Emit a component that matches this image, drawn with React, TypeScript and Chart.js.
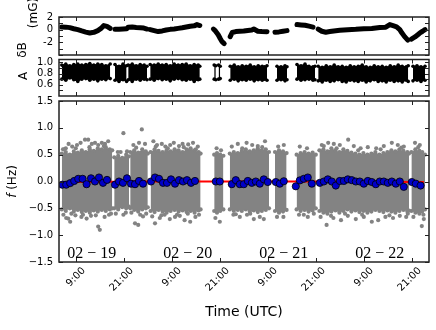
import React, { useEffect, useRef } from 'react';
import { Chart, registerables } from 'chart.js';

Chart.register(...registerables);

// ---- time axis (hours since 02-19 00:00 UTC) ----
const X_MIN = 4.8;
const X_MAX = 97.3;
const xTickHours = [9, 21, 33, 45, 57, 69, 81, 93];
const xTickLabels = ['9:00', '21:00', '9:00', '21:00', '9:00', '21:00', '9:00', '21:00'];
const dayLabelHours = [13, 37, 61, 85];
const dayLabels = ['02 \u2212 19', '02 \u2212 20', '02 \u2212 21', '02 \u2212 22'];

// ---- top panel: dB (mG) ----
const dbTicks = [-4, -3, -2, -1, 0, 1, 2];
const dbLabelled = [2, 0, -2];
const dbT: number[][] = [
  [5.5, 6.5, 7.5, 8.5, 9.5, 10.5, 11.5, 12.5, 13.5, 14.5, 15.3, 16.0, 16.8, 17.6],
  [18.8, 19.8, 20.8, 21.7],
  [22.1, 23.1, 24.1, 25.1, 26.0, 26.8],
  [27.6, 28.6, 29.6, 30.6, 31.6, 32.6, 33.6, 34.6, 35.6, 36.6, 37.6, 38.6, 39.3, 40.0],
  [43.4, 43.9, 44.6, 45.1, 45.5, 46.1],
  [47.6, 48.1, 49.0, 50.0, 51.0, 52.0, 53.0, 53.5, 54.5, 55.5, 56.8],
  [58.8, 59.8, 60.8, 61.8],
  [64.3, 65.3, 66.3, 67.3, 68.3],
  [69.6, 70.5, 71.5, 72.5, 73.5, 75, 77, 79, 81, 83, 85, 86.5, 87.5, 88.5, 89.2, 90.0, 90.5, 91.2, 92.0],
  [92.9, 93.8, 94.5, 95.05, 95.7, 96.3],
];
const dbV: number[][] = [
  [0.42, 0.4, 0.32, 0.15, 0.0, -0.2, -0.38, -0.52, -0.42, -0.15, 0.2, 0.65, 0.52, 0.2],
  [0.05, 0.05, 0.1, 0.15],
  [0.4, 0.43, 0.35, 0.3, 0.25, 0.1],
  [0.0, -0.15, -0.3, -0.2, -0.05, 0.05, 0.1, 0.2, 0.3, 0.42, 0.55, 0.6, 0.8, 0.65],
  [0.1, -0.2, -0.8, -1.4, -1.85, -2.2],
  [-1.1, -0.45, -0.3, -0.25, -0.22, -0.12, -0.05, 0.1, -0.25, -0.3, -0.32],
  [-0.4, -0.35, -0.25, -0.15],
  [0.8, 0.75, 0.7, 0.55, 0.4],
  [0.1, -0.25, -0.4, -0.3, -0.2, -0.1, 0.0, 0.05, 0.15, 0.2, 0.35, 0.4, 0.8, 0.6, 0.45, 0.0, -0.5, -1.1, -1.65],
  [-1.5, -1.15, -0.8, -0.5, -0.25, 0.0],
];

// ---- middle panel: A ----
const aTicks = [0.5, 0.6, 0.7, 0.8, 0.9, 1.0];
const aLabelled = [0.6, 0.8, 1.0];
const aT: number[][] = [
  [5.5, 6.5, 7.5, 8.5, 9.5, 10.5, 11.5, 12.5, 13.5, 14.5, 15.5, 16.5, 17.6],
  [18.8, 19.8, 20.8, 21.7],
  [22.1, 23.1, 24.1, 25.1, 26.1, 26.8],
  [27.6, 28.6, 29.6, 30.6, 31.6, 32.6, 33.6, 34.6, 35.6, 36.6, 37.6, 38.6, 39.6, 40.0],
  [43.6, 44.0],
  [44.7, 45.1],
  [47.6, 48.6, 49.6, 50.6, 51.6, 52.6, 53.6, 54.6, 55.6, 56.2, 56.8],
  [59.3, 60.3, 61.3, 61.8],
  [64.3, 65.3, 66.3, 67.3, 68.3, 68.8],
  [69.6, 70.6, 71.6, 72.6, 73.6, 74.6, 75.6, 76.6, 77.6, 78.6, 79.6, 80.6, 81.6, 82.6, 83.6, 84.6, 85.6, 86.6, 87.6, 88.6, 89.6, 90.6, 91.6, 92.1],
  [93.3, 94.3, 95.3, 96.3],
];
const aHi: number[][] = [
  [0.95, 0.97, 0.94, 0.96, 0.97, 0.95, 0.96, 0.98, 0.95, 0.97, 0.96, 0.94, 0.97],
  [0.96, 0.93, 0.97, 0.94],
  [0.95, 0.97, 0.94, 0.96, 0.95, 0.93],
  [0.96, 0.95, 0.97, 0.95, 0.96, 0.94, 0.97, 0.95, 0.96, 0.97, 0.94, 0.96, 0.95, 0.93],
  [0.95, 0.94],
  [0.95, 0.93],
  [0.93, 0.95, 0.92, 0.94, 0.93, 0.95, 0.92, 0.94, 0.93, 0.92, 0.94],
  [0.93, 0.92, 0.94, 0.92],
  [0.96, 0.94, 0.97, 0.93, 0.92, 0.93],
  [0.93, 0.91, 0.94, 0.92, 0.95, 0.92, 0.93, 0.91, 0.94, 0.92, 0.93, 0.95, 0.92, 0.91, 0.94, 0.92, 0.93, 0.91, 0.94, 0.92, 0.95, 0.93, 0.92, 0.94],
  [0.93, 0.94, 0.92, 0.93],
];
const aLo: number[][] = [
  [0.7, 0.68, 0.72, 0.69, 0.66, 0.7, 0.71, 0.68, 0.7, 0.67, 0.7, 0.69, 0.71],
  [0.68, 0.66, 0.69, 0.66],
  [0.69, 0.66, 0.7, 0.68, 0.7, 0.69],
  [0.7, 0.68, 0.71, 0.69, 0.7, 0.67, 0.7, 0.71, 0.69, 0.68, 0.7, 0.66, 0.69, 0.7],
  [0.7, 0.69],
  [0.7, 0.71],
  [0.68, 0.7, 0.67, 0.69, 0.68, 0.7, 0.67, 0.69, 0.68, 0.7, 0.68],
  [0.68, 0.69, 0.67, 0.69],
  [0.7, 0.68, 0.69, 0.7, 0.68, 0.69],
  [0.67, 0.65, 0.68, 0.66, 0.67, 0.69, 0.66, 0.65, 0.68, 0.67, 0.66, 0.68, 0.65, 0.67, 0.69, 0.66, 0.67, 0.65, 0.68, 0.66, 0.67, 0.65, 0.68, 0.66],
  [0.67, 0.68, 0.66, 0.68],
];

// ---- bottom panel: f (Hz) ----
const fTicks = [-1.5, -1.0, -0.5, 0.0, 0.5, 1.0, 1.5];
// dense grey cloud: upper / lower envelope per data segment
const fT: number[][] = [
  [5.5, 6.5, 7.5, 8.5, 9.5, 10.5, 11.5, 12.5, 13.5, 14.5, 15.5, 16.5, 17.5, 18.1],
  [18.6, 19.6, 20.6, 21.6, 22.3],
  [22.6, 23.6, 24.6, 25.6, 26.5, 27.0],
  [27.7, 28.7, 29.7, 30.7, 31.7, 32.7, 33.7, 34.7, 35.7, 36.7, 37.7, 38.7, 39.7, 40.2],
  [43.6, 44.3, 45.1, 45.9],
  [47.5, 48.5, 49.5, 50.5, 51.5, 52.5, 53.5, 54.5, 55.5, 56.5, 57.3],
  [58.8, 59.8, 60.8, 61.7],
  [64.2, 65.2, 66.2, 67.2, 68.2, 69.0],
  [69.9, 70.9, 71.9, 72.9, 73.9, 74.9, 75.9, 76.9, 77.9, 78.9, 79.9, 80.9, 81.9, 82.9, 83.9, 84.9, 85.9, 86.9, 87.9, 88.9, 89.9, 90.9, 91.9, 92.3],
  [92.9, 93.9, 94.9, 95.6, 96.3],
];
const fHi: number[][] = [
  [0.52, 0.55, 0.5, 0.56, 0.54, 0.58, 0.55, 0.6, 0.57, 0.62, 0.6, 0.64, 0.6, 0.58],
  [0.45, 0.48, 0.44, 0.5, 0.47],
  [0.55, 0.58, 0.54, 0.6, 0.56, 0.52],
  [0.55, 0.6, 0.57, 0.55, 0.58, 0.56, 0.6, 0.58, 0.55, 0.6, 0.62, 0.58, 0.55, 0.52],
  [0.5, 0.53, 0.5, 0.48],
  [0.52, 0.55, 0.53, 0.57, 0.6, 0.56, 0.58, 0.62, 0.58, 0.6, 0.55],
  [0.55, 0.58, 0.56, 0.53],
  [0.5, 0.53, 0.55, 0.52, 0.54, 0.5],
  [0.58, 0.6, 0.56, 0.62, 0.58, 0.55, 0.6, 0.57, 0.54, 0.52, 0.5, 0.53, 0.5, 0.52, 0.55, 0.5, 0.53, 0.55, 0.58, 0.56, 0.6, 0.57, 0.55, 0.52],
  [0.55, 0.6, 0.57, 0.55, 0.5],
];
const fLo: number[][] = [
  [-0.52, -0.55, -0.5, -0.56, -0.53, -0.57, -0.55, -0.58, -0.54, -0.56, -0.53, -0.55, -0.52, -0.5],
  [-0.5, -0.52, -0.48, -0.5, -0.47],
  [-0.5, -0.53, -0.56, -0.52, -0.5, -0.48],
  [-0.55, -0.57, -0.53, -0.56, -0.58, -0.55, -0.53, -0.56, -0.54, -0.57, -0.55, -0.58, -0.54, -0.52],
  [-0.55, -0.58, -0.55, -0.52],
  [-0.52, -0.55, -0.53, -0.55, -0.52, -0.56, -0.54, -0.57, -0.55, -0.53, -0.5],
  [-0.55, -0.58, -0.56, -0.53],
  [-0.52, -0.55, -0.53, -0.56, -0.54, -0.5],
  [-0.55, -0.58, -0.6, -0.56, -0.54, -0.58, -0.55, -0.52, -0.56, -0.54, -0.57, -0.55, -0.58, -0.56, -0.53, -0.55, -0.57, -0.54, -0.56, -0.58, -0.55, -0.53, -0.56, -0.54],
  [-0.55, -0.58, -0.6, -0.56, -0.52],
];
// sparse grey points outside the dense cloud
const outT = [
  5.8, 6.5, 7.2, 8.1, 9.3, 10.2, 11.3, 12.1, 13.0, 13.8, 14.6, 15.5, 16.3, 17.1,
  5.9, 6.6, 7.1, 7.6, 8.9, 10.4, 11.7, 12.8, 14.6, 15.0, 16.2, 17.3,
  19.5, 20.9, 21.8, 23.4, 24.8, 25.5, 26.3,
  19.0, 20.9, 21.5, 23.8, 24.6, 25.8, 26.6,
  28.4, 29.3, 30.5, 31.4, 32.6, 33.5, 34.8, 35.7, 37.1, 38.3, 39.5,
  28.1, 28.8, 30.0, 31.2, 32.5, 33.8, 35.0, 36.2, 37.6, 38.9, 39.8,
  44.2, 45.3, 43.9, 45.0,
  48.0, 49.5, 51.7, 53.1, 54.5, 56.3, 48.4, 50.0, 51.8, 53.5, 55.0, 56.0,
  59.6, 61.0, 59.3, 60.9,
  65.0, 66.8, 64.8, 67.0, 68.5,
  70.5, 72.1, 73.5, 75.0, 77.1, 78.5, 80.2, 82.0, 84.1, 86.0, 88.0, 89.5, 91.0,
  70.2, 71.7, 73.4, 75.3, 77.0, 79.0, 81.0, 83.0, 84.6, 86.4, 88.3, 90.0, 91.6,
  93.8, 95.0, 93.4, 95.5, 96.0,
  6.1, 9.0, 12.4, 16.0, 20.2, 24.1, 29.0, 32.0, 36.0, 39.0, 50.6, 55.6, 71.0, 74.2, 79.6, 85.2, 90.4, 94.6,
  7.9, 10.8, 14.0, 17.8, 22.9, 25.1, 30.4, 34.3, 37.0, 49.0, 52.6, 66.0, 72.8, 76.3, 80.6, 87.4, 92.0, 95.9,
];
const outV = [
  0.6, 0.62, 0.7, 0.65, 0.68, 0.72, 0.78, 0.78, 0.7, 0.72, 0.68, 0.72, 0.7, 0.75,
  -0.62, -0.68, -0.69, -0.75, -0.63, -0.66, -0.69, -0.64, -0.84, -0.9, -0.66, -0.62,
  0.55, 0.9, 0.56, 0.68, 0.72, 0.97, 0.7,
  -0.6, -0.62, -0.58, -0.78, -0.81, -0.65, -0.6,
  0.75, 0.68, 0.7, 0.65, 0.68, 0.72, 0.66, 0.7, 0.69, 0.72, 0.65,
  -0.65, -0.78, -0.68, -0.62, -0.7, -0.66, -0.64, -0.72, -0.75, -0.66, -0.62,
  0.62, 0.58, -0.68, -0.75,
  0.65, 0.7, 0.72, 0.68, 0.66, 0.75, -0.62, -0.66, -0.62, -0.7, -0.66, -0.7,
  0.65, 0.68, -0.66, -0.66,
  0.65, 0.62, -0.62, -0.66, -0.6,
  0.68, 0.72, 0.7, 0.68, 0.78, 0.66, 0.62, 0.64, 0.62, 0.66, 0.72, 0.68, 0.65,
  -0.66, -0.81, -0.68, -0.72, -0.64, -0.7, -0.66, -0.75, -0.72, -0.66, -0.68, -0.64, -0.66,
  0.72, 0.68, -0.66, -0.83, -0.7,
  0.6, 0.62, 0.64, 0.66, 0.55, 0.63, 0.65, 0.62, 0.64, 0.6, 0.62, 0.64, 0.66, 0.62, 0.58, 0.6, 0.63, 0.64,
  -0.6, -0.62, -0.63, -0.6, -0.58, -0.62, -0.63, -0.62, -0.6, -0.61, -0.6, -0.62, -0.64, -0.6, -0.62, -0.63, -0.6, -0.62,
];
// hourly binned means (blue)
const binT = [
  5.6, 6.6, 7.6, 8.6, 9.6, 10.7, 11.7, 12.8, 13.8, 14.8, 15.8, 16.8,
  18.8, 19.8, 20.8, 21.8, 22.8, 23.8, 24.8, 25.8,
  27.8, 28.8, 29.8, 30.8, 31.8, 32.8, 33.8, 34.8, 35.8, 36.8, 37.8, 38.8,
  44.0, 45.0,
  48.0, 49.0, 50.0, 51.0, 52.0, 53.0, 54.0, 55.0, 56.0, 57.0,
  59.0, 60.0, 61.0,
  64.0, 65.0, 66.0, 67.0, 68.0,
  70, 71, 72, 73, 74, 75, 76, 77, 78, 79, 80, 81, 82, 83, 84, 85, 86, 87, 88, 89, 90, 91,
  93.0, 94.0, 95.2,
];
const binV = [
  -0.06, -0.06, -0.03, 0.01, 0.05, 0.05, -0.05, 0.06, 0.0, 0.075, -0.025, 0.03,
  -0.06, 0.0, -0.025, 0.06, -0.04, -0.05, 0.01, -0.04,
  0.0, 0.075, 0.05, -0.025, -0.025, 0.04, -0.04, 0.025, 0.0, 0.025, -0.025, 0.01,
  0.0, 0.0,
  -0.05, 0.025, -0.05, -0.05, 0.01, -0.025, 0.0, -0.04, 0.04, -0.01,
  -0.01, -0.04, 0.005,
  -0.09, 0.02, 0.05, 0.075, -0.04,
  -0.025, 0.0, 0.04, 0.0, -0.075, 0.01, 0.01, 0.04, 0.025, 0.0, 0.0, -0.04, 0.01, -0.01, -0.05, 0.0, 0.0, -0.025, 0.0, -0.04, 0.0, -0.1,
  -0.01, -0.04, -0.075,
];
// red fitted line
const fitT = [5.5, 30, 65, 96];
const fitV = [-0.01, 0.0, 0.0, -0.01];

// ---- layout ----
const W = 436;
const H = 330;
const LEFT = 59;
const RIGHT_PAD = 7;
const FONT = 'DejaVu Sans';
const GREY = '#838383';

const pts = (ts: number[], vs: number[]) => ts.map((t, i) => ({ x: t, y: vs[i] }));

function framePlugin(yTicks: number[]) {
  return {
    id: 'frameTicks',
    afterDatasetsDraw(chart: any) {
      const { ctx, chartArea: a, scales } = chart;
      const xs = scales.x;
      const ys = scales.y;
      ctx.save();
      ctx.strokeStyle = '#222';
      ctx.lineWidth = 1;
      ctx.beginPath();
      xTickHours.forEach((t) => {
        const px = Math.round(xs.getPixelForValue(t)) + 0.5;
        ctx.moveTo(px, a.top);
        ctx.lineTo(px, a.top + 4);
        ctx.moveTo(px, a.bottom);
        ctx.lineTo(px, a.bottom - 4);
      });
      yTicks.forEach((v) => {
        const py = Math.round(ys.getPixelForValue(v)) + 0.5;
        ctx.moveTo(a.left, py);
        ctx.lineTo(a.left + 4, py);
        ctx.moveTo(a.right, py);
        ctx.lineTo(a.right - 4, py);
      });
      ctx.stroke();
      ctx.lineWidth = 1.5;
      ctx.strokeRect(a.left, a.top, a.right - a.left, a.bottom - a.top);
      ctx.restore();
    },
  };
}

function vText(ctx: CanvasRenderingContext2D, parts: { t: string; font: string }[], cx: number, cy: number) {
  ctx.save();
  ctx.translate(cx, cy);
  ctx.rotate(-Math.PI / 2);
  const widths = parts.map((p) => {
    ctx.font = p.font;
    return ctx.measureText(p.t).width;
  });
  const total = widths.reduce((s, w) => s + w, 0);
  let x = -total / 2;
  ctx.textBaseline = 'middle';
  ctx.textAlign = 'left';
  ctx.fillStyle = '#000';
  parts.forEach((p, i) => {
    ctx.font = p.font;
    ctx.fillText(p.t, x, 0);
    x += widths[i];
  });
  ctx.restore();
}

const labelsPlugin = {
  id: 'textLabels',
  afterDraw(chart: any) {
    const { ctx, chartArea: a, scales } = chart;
    const xs = scales.x;
    ctx.save();
    ctx.fillStyle = '#000';
    ctx.font = '16px "Liberation Serif"';
    ctx.textAlign = 'center';
    ctx.textBaseline = 'alphabetic';
    dayLabelHours.forEach((h, i) => {
      ctx.fillText(dayLabels[i], xs.getPixelForValue(h), a.bottom - 4);
    });
    ctx.restore();
    const f12 = `12px "${FONT}"`;
    vText(ctx, [{ t: 'f', font: `oblique 12px "${FONT}"` }, { t: ' (Hz)', font: f12 }], 13, (a.top + a.bottom) / 2);
    vText(ctx, [{ t: '(mG)', font: f12 }], 34, 13);
    vText(ctx, [{ t: '\u03b4B', font: f12 }], 23, 50);
    vText(ctx, [{ t: 'A', font: f12 }], 24, 76);
  },
};

function yScale(min: number, max: number, ticks: number[], label: (v: number) => string) {
  return {
    type: 'linear',
    position: 'left',
    min,
    max,
    afterBuildTicks: (s: any) => {
      s.ticks = ticks.map((v) => ({ value: v }));
    },
    afterFit: (s: any) => {
      s.width = LEFT;
    },
    grid: { display: false, drawTicks: false },
    border: { display: false },
    ticks: {
      autoSkip: false,
      padding: 6,
      color: '#000',
      font: { family: FONT, size: 10 },
      callback: (v: any) => label(Number(v)),
    },
  };
}

const hiddenX = { type: 'linear', display: false, min: X_MIN, max: X_MAX };

const baseOpts = {
  responsive: false,
  animation: false,
  devicePixelRatio: 1,
  events: [],
  plugins: { legend: { display: false }, tooltip: { enabled: false } },
};

function topConfig(): any {
  return {
    type: 'line',
    data: {
      datasets: dbT.map((ts, i) => ({
        data: pts(ts, dbV[i]),
        borderColor: '#000',
        borderWidth: 5,
        borderCapStyle: 'round',
        borderJoinStyle: 'round',
        pointRadius: 0,
        fill: false,
        tension: 0,
      })),
    },
    options: {
      ...baseOpts,
      layout: { padding: { top: 17, bottom: H - 55, left: 0, right: RIGHT_PAD } },
      scales: {
        x: hiddenX,
        y: yScale(-4, 2, dbTicks, (v) => (dbLabelled.some((l) => Math.abs(l - v) < 1e-6) ? String(v) : '')),
      },
    },
    plugins: [framePlugin(dbTicks)],
  };
}

function midConfig(): any {
  const datasets: any[] = [];
  aT.forEach((ts, i) => {
    const common = {
      borderColor: '#000',
      backgroundColor: '#000',
      borderWidth: 1,
      pointRadius: 1.8,
      pointBackgroundColor: '#000',
      pointBorderWidth: 0,
      tension: 0,
    };
    datasets.push({ ...common, data: pts(ts, aHi[i]), fill: '+1' });
    datasets.push({ ...common, data: pts(ts, aLo[i]), fill: false });
  });
  return {
    type: 'line',
    data: { datasets },
    options: {
      ...baseOpts,
      layout: { padding: { top: 59.5, bottom: H - 96, left: 0, right: RIGHT_PAD } },
      scales: {
        x: hiddenX,
        y: yScale(0.4, 1.05, aTicks, (v) => (aLabelled.some((l) => Math.abs(l - v) < 1e-6) ? v.toFixed(1) : '')),
      },
    },
    plugins: [framePlugin(aTicks)],
  };
}

function botConfig(): any {
  const datasets: any[] = [];
  fT.forEach((ts, i) => {
    const common = {
      borderColor: GREY,
      backgroundColor: GREY,
      borderWidth: 0,
      pointRadius: 2.1,
      pointBackgroundColor: GREY,
      pointBorderWidth: 0,
      tension: 0,
      order: 3,
    };
    datasets.push({ ...common, data: pts(ts, fHi[i]), fill: '+1' });
    datasets.push({ ...common, data: pts(ts, fLo[i]), fill: false });
  });
  datasets.push({
    data: pts(outT, outV),
    showLine: false,
    pointRadius: 2.1,
    pointBackgroundColor: GREY,
    pointBorderWidth: 0,
    order: 2,
  });
  datasets.push({
    data: pts(fitT, fitV),
    borderColor: '#ff0000',
    borderWidth: 2,
    pointRadius: 0,
    fill: false,
    tension: 0,
    order: 1,
  });
  datasets.push({
    data: pts(binT, binV),
    showLine: false,
    pointRadius: 3.6,
    pointBackgroundColor: '#0000c8',
    pointBorderColor: '#000',
    pointBorderWidth: 0.8,
    order: 0,
  });
  return {
    type: 'line',
    data: { datasets },
    options: {
      ...baseOpts,
      layout: { padding: { top: 101, bottom: 0, left: 0, right: RIGHT_PAD } },
      scales: {
        x: {
          type: 'linear',
          min: X_MIN,
          max: X_MAX,
          afterBuildTicks: (s: any) => {
            s.ticks = xTickHours.map((v) => ({ value: v }));
          },
          afterFit: (s: any) => {
            s.height = 68;
          },
          grid: { display: false, drawTicks: false },
          border: { display: false },
          ticks: {
            autoSkip: false,
            minRotation: 45,
            maxRotation: 45,
            padding: 3,
            labelOffset: 8,
            color: '#000',
            font: { family: FONT, size: 10 },
            callback: (v: any) => xTickLabels[xTickHours.indexOf(Number(v))] ?? '',
          },
          title: {
            display: true,
            text: 'Time (UTC)',
            color: '#000',
            font: { family: FONT, size: 14 },
            padding: { top: 0, bottom: 9 },
          },
        },
        y: yScale(-1.5, 1.5, fTicks, (v) => v.toFixed(1).replace('-', '\u2212')),
      },
    },
    plugins: [framePlugin(fTicks), labelsPlugin],
  };
}

export default function App() {
  const r1 = useRef<HTMLCanvasElement>(null);
  const r2 = useRef<HTMLCanvasElement>(null);
  const r3 = useRef<HTMLCanvasElement>(null);
  useEffect(() => {
    const charts: Chart[] = [];
    if (r1.current) charts.push(new Chart(r1.current, topConfig()));
    if (r2.current) charts.push(new Chart(r2.current, midConfig()));
    if (r3.current) charts.push(new Chart(r3.current, botConfig()));
    return () => charts.forEach((c) => c.destroy());
  }, []);
  const st: React.CSSProperties = { position: 'absolute', left: 0, top: 0 };
  return (
    <div style={{ position: 'fixed', left: 0, top: 0, width: W, height: H, background: '#fff' }}>
      <canvas ref={r1} width={W} height={H} style={st} />
      <canvas ref={r2} width={W} height={H} style={st} />
      <canvas ref={r3} width={W} height={H} style={st} />
    </div>
  );
}
